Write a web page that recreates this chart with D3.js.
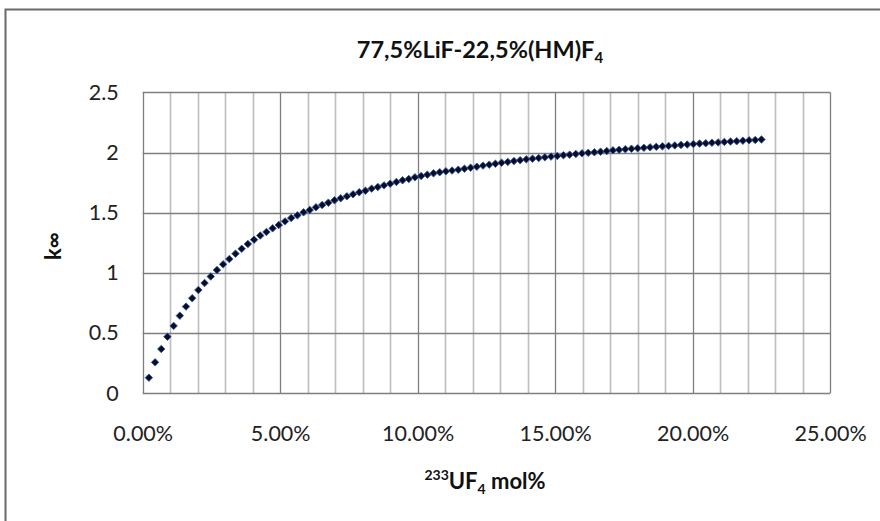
<!DOCTYPE html>
<html><head><meta charset="utf-8">
<script src="https://cdn.jsdelivr.net/npm/d3@7"></script>
<style>body{margin:0;background:#fff}svg{display:block}</style>
</head><body>
<script>
// x values: mol% of 233UF4 (fraction)
const xValues = d3.range(1, 101).map(i => i * 0.00225);
const kInf = [
0.130,0.257,0.368,0.470,0.560,0.645,0.720,0.790,0.858,0.916,
0.970,1.024,1.071,1.115,1.160,1.200,1.240,1.276,1.310,1.340,
1.370,1.398,1.428,1.456,1.478,1.503,1.523,1.545,1.564,1.583,
1.603,1.620,1.636,1.653,1.670,1.683,1.700,1.713,1.727,1.741,
1.755,1.769,1.780,1.794,1.805,1.816,1.827,1.836,1.844,1.850,
1.857,1.866,1.874,1.882,1.891,1.899,1.907,1.915,1.922,1.929,
1.936,1.943,1.949,1.954,1.960,1.966,1.971,1.977,1.982,1.988,
1.993,1.997,2.002,2.007,2.012,2.018,2.022,2.027,2.031,2.035,
2.039,2.043,2.047,2.051,2.055,2.059,2.063,2.066,2.070,2.074,
2.077,2.081,2.084,2.088,2.091,2.094,2.098,2.101,2.104,2.108];
const xTicks = [0, 0.05, 0.10, 0.15, 0.20, 0.25];
const yTicks = [0, 0.5, 1, 1.5, 2, 2.5];

const W = 880, H = 521;
const svg = d3.select("body").append("svg").attr("width", W).attr("height", H);
const font = "Lato, 'Open Sans', sans-serif";

// outer chart frame (cropped: only top and left visible)
svg.append("path").attr("d", `M5.5,${H} L5.5,9.5 L${W},9.5`)
  .attr("fill","none").attr("stroke","#6a6a6a").attr("stroke-width",2);

const L = 142.7, R = 830.2, T = 92.3, B = 393.3;
const x = d3.scaleLinear().domain([0, 0.25]).range([L, R]);
const y = d3.scaleLinear().domain([0, 2.5]).range([B, T]);

// minor vertical gridlines every 1%
const minor = d3.range(1, 25).filter(i => i % 5 !== 0).map(i => i / 100);
svg.append("g").selectAll("line").data(minor).join("line")
  .attr("x1", d => Math.round(x(d)) + 0.5).attr("x2", d => Math.round(x(d)) + 0.5)
  .attr("y1", T).attr("y2", B).attr("stroke", "#bdbdbd").attr("stroke-width", 1.6);
// major vertical gridlines
svg.append("g").selectAll("line").data(xTicks).join("line")
  .attr("x1", d => Math.round(x(d)) + 0.5).attr("x2", d => Math.round(x(d)) + 0.5)
  .attr("y1", T).attr("y2", B).attr("stroke", "#7f7f7f").attr("stroke-width", 1.3);
// horizontal gridlines
svg.append("g").selectAll("line").data(yTicks).join("line")
  .attr("x1", L).attr("x2", R)
  .attr("y1", d => Math.round(y(d)) + 0.5).attr("y2", d => Math.round(y(d)) + 0.5)
  .attr("stroke", "#7f7f7f").attr("stroke-width", 1.3);

// axes (labels only)
const xAxis = d3.axisBottom(x).tickValues(xTicks).tickSize(0).tickPadding(0)
  .tickFormat(d => (d * 100).toFixed(2) + "%");
const gx = svg.append("g").attr("transform", `translate(0,433)`).call(xAxis);
gx.select(".domain").remove();
gx.selectAll("text").attr("font-family", font).attr("font-size", 21.5).attr("fill", "#222").attr("dy", "0.36em");

const yAxis = d3.axisLeft(y).tickValues(yTicks).tickSize(0).tickPadding(0)
  .tickFormat(d3.format("~g"));
const gy = svg.append("g").attr("transform", `translate(${L - 24},0)`).call(yAxis);
gy.select(".domain").remove();
gy.selectAll("text").attr("font-family", font).attr("font-size", 21.5).attr("fill", "#222");

// markers
const sym = d3.symbol().type(d3.symbolSquare).size(28);
svg.append("g").selectAll("path").data(xValues.map((v, i) => [v, kInf[i]])).join("path")
  .attr("d", sym)
  .attr("transform", d => `translate(${x(d[0])},${y(d[1])}) rotate(45)`)
  .attr("fill", "#0b0b24").attr("stroke", "#2a5aa8").attr("stroke-width", 0.8);

// title
const title = svg.append("text").attr("x", 480).attr("y", 58).attr("text-anchor", "middle")
  .attr("font-family", font).attr("font-weight", "bold").attr("font-size", 23.5).attr("fill", "#111");
title.append("tspan").text("77,5%LiF-22,5%(HM)F");
title.append("tspan").attr("font-size", 15).attr("dy", 5).text("4");

// x label
const xl = svg.append("text").attr("x", 485).attr("y", 489).attr("text-anchor", "middle")
  .attr("font-family", font).attr("font-weight", "bold").attr("font-size", 22).attr("fill", "#111");
xl.append("tspan").attr("font-size", 14).attr("dy", -9).text("233");
xl.append("tspan").attr("dy", 9).text("UF");
xl.append("tspan").attr("font-size", 14).attr("dy", 5).text("4");
xl.append("tspan").attr("dy", -5).text(" mol%");

// y label
svg.append("text").attr("transform", "translate(61,246) rotate(-90)").attr("text-anchor", "middle")
  .attr("font-family", font).attr("font-weight", "bold").attr("font-size", 22).attr("fill", "#111")
  .text("k∞");
</script>
</body></html>
